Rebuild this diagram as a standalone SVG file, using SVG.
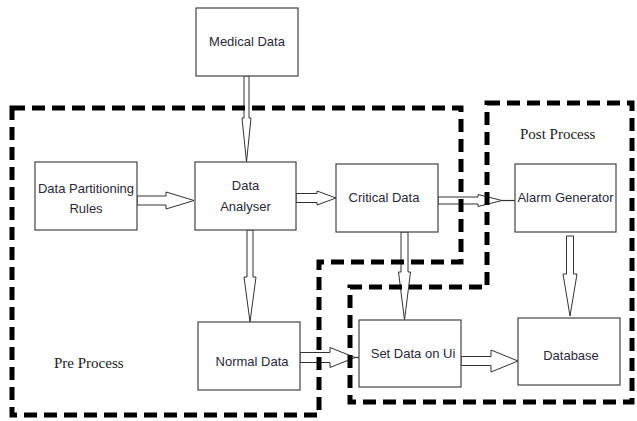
<svg xmlns="http://www.w3.org/2000/svg" width="637" height="421" viewBox="0 0 637 421">
<style>
.box{fill:#fff;stroke:#444;stroke-width:1.2}
.t{font-family:"Liberation Sans",Arial,sans-serif;font-size:13px;fill:#2a2a3a;text-anchor:middle}
.s{font-family:"Liberation Serif","Times New Roman",serif;font-size:15px;fill:#222}
.bd{fill:none;stroke:#000;stroke-width:5;stroke-dasharray:13 7}
.ar{fill:#fff;stroke:#333;stroke-width:1}
.ln{stroke:#333;stroke-width:1.2}
</style>
<rect width="637" height="421" fill="#fff"/>
<g id="connectors">
<polygon class="ar" points="244,76 249,76 249,118 251,118 246.5,162 242,118 244,118"/>
<polygon class="ar" points="137,196 166,196 166,192 194,200.5 166,209 166,205 137,205"/>
<polygon class="ar" points="296,193.5 317,193.5 317,191 336,198 317,205 317,202.5 296,202.5"/>
<polygon class="ar" points="438,197 478,197 478,194.5 502,200.5 478,206.5 478,204 438,204"/>
<line class="ln" x1="502" y1="200.5" x2="515" y2="200.5"/>
<polygon class="ar" points="247,230 253,230 253,277 256,277 250,322 244,277 247,277"/>
<polygon class="ar" points="401,232 408,232 408,272 410.5,272 404.5,320 398.5,272 401,272"/>
<polygon class="ar" points="566.5,236 573.5,236 573.5,274 577,274 570,316 563,274 566.5,274"/>
<polygon class="ar" points="300,352.5 330,352.5 330,347.5 355,357.5 330,367.5 330,362.5 300,362.5"/>
<line class="ln" x1="355" y1="357.5" x2="359" y2="357.5"/>
<polygon class="ar" points="461,356.5 491,356.5 491,350 518,361 491,372 491,365.5 461,365.5"/>
</g>
<g id="pre-process">
<path class="bd" d="M12,108 H461 V262 H319 V415 H12 Z"/>
<text class="s" x="54" y="368">Pre Process</text>
</g>
<g id="post-process">
<path class="bd" d="M487,103 H632 V402 H350 V287 H487 Z"/>
<text class="s" x="520" y="139">Post Process</text>
</g>
<g id="medical-data"><rect class="box" x="196" y="8" width="102" height="68"/><text class="t" x="247" y="46">Medical Data</text></g>
<g id="data-partitioning-rules"><rect class="box" x="35" y="162" width="102" height="68"/><text class="t" x="86" y="193">Data Partitioning</text><text class="t" x="86" y="213">Rules</text></g>
<g id="data-analyser"><rect class="box" x="195" y="162" width="101" height="68"/><text class="t" x="245.5" y="190">Data</text><text class="t" x="245.5" y="211">Analyser</text></g>
<g id="critical-data"><rect class="box" x="336" y="164" width="102" height="68"/><text class="t" x="384" y="202">Critical Data</text></g>
<g id="alarm-generator"><rect class="box" x="515" y="164" width="101" height="68"/><text class="t" x="565.5" y="202">Alarm Generator</text></g>
<g id="normal-data"><rect class="box" x="198" y="322" width="102" height="68"/><text class="t" x="252" y="366">Normal Data</text></g>
<g id="set-data-on-ui"><rect class="box" x="359" y="320" width="102" height="67"/><text class="t" x="413" y="358">Set Data on Ui</text></g>
<g id="database"><rect class="box" x="518" y="318" width="102" height="67"/><text class="t" x="571" y="360">Database</text></g>
</svg>
